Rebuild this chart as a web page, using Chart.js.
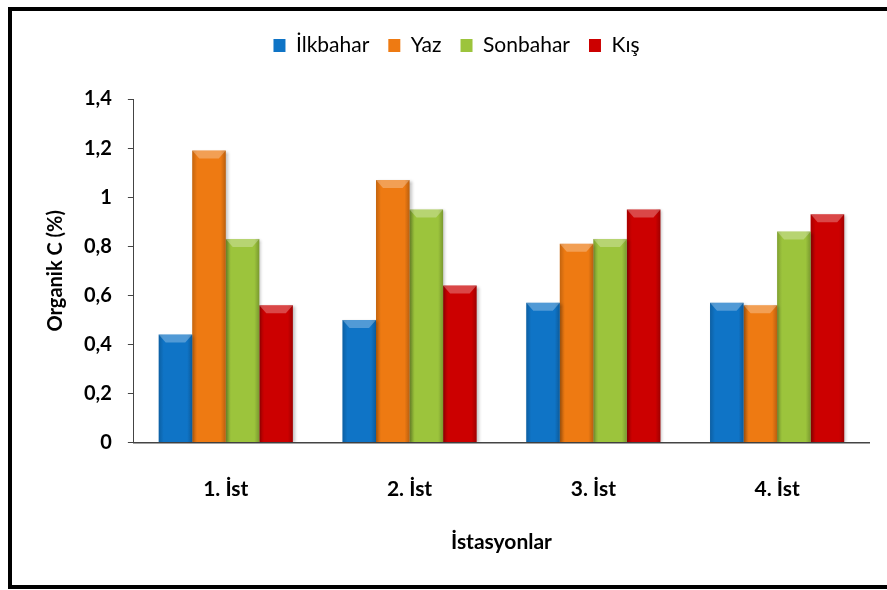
<!DOCTYPE html>
<html>
<head>
<meta charset="utf-8">
<script src="https://cdn.jsdelivr.net/npm/chart.js@4.4.1/dist/chart.umd.min.js"></script>
<style>
  body { margin: 0; background: #fff; }
  #wrap { position: relative; width: 887px; height: 590px; overflow: hidden; }
  #frame { position: absolute; left: 8px; top: 7px; width: 900px; height: 582px; border: 4px solid #000; box-sizing: border-box; }
  #chart { position: absolute; left: 0; top: 0; }
</style>
</head>
<body>
<div id="wrap">
  <div id="frame"></div>
  <canvas id="chart" width="887" height="590"></canvas>
</div>
<script>
// istasyonlar ve mevsimler
var stations = ["1. İst", "2. İst", "3. İst", "4. İst"];
var ilkbahar = [0.44, 0.50, 0.57, 0.57];
var yaz = [1.19, 1.07, 0.81, 0.56];
var sonbahar = [0.83, 0.95, 0.83, 0.86];
var kis = [0.56, 0.64, 0.95, 0.93];

var FONT = "Lato";

// fixed legend height so the plot starts where the excel one does
var legendGap = {
  id: 'legendGap',
  beforeInit: function(chart) {
    var fit = chart.legend.fit;
    chart.legend.fit = function() {
      fit.bind(chart.legend)();
      this.height = 83;
    };
  }
};

// shadow + bevel look like the excel bars
var bevel = {
  id: 'bevel',
  beforeDatasetsDraw: function(chart) {
    var ctx = chart.ctx;
    ctx.save();
    ctx.shadowColor = 'rgba(0,0,0,0.25)';
    ctx.shadowOffsetX = 2;
    ctx.shadowOffsetY = 1;
    ctx.shadowBlur = 3;
  },
  afterDatasetsDraw: function(chart) {
    var ctx = chart.ctx;
    ctx.restore();
    chart.data.datasets.forEach(function(ds, i) {
      chart.getDatasetMeta(i).data.forEach(function(bar) {
        var p = bar.getProps(['x', 'y', 'width', 'base'], true);
        var l = p.x - p.width / 2, r = p.x + p.width / 2;
        var g = ctx.createLinearGradient(l, 0, r, 0);
        g.addColorStop(0, 'rgba(0,0,0,0.18)');
        g.addColorStop(0.15, 'rgba(0,0,0,0)');
        g.addColorStop(0.85, 'rgba(0,0,0,0)');
        g.addColorStop(1, 'rgba(0,0,0,0.22)');
        ctx.save();
        ctx.fillStyle = g;
        ctx.fillRect(l, p.y, p.width, p.base - p.y);
        ctx.beginPath();
        ctx.moveTo(l, p.y);
        ctx.lineTo(r, p.y);
        ctx.lineTo(r - 7, p.y + 8);
        ctx.lineTo(l + 7, p.y + 8);
        ctx.closePath();
        ctx.fillStyle = 'rgba(255,255,255,0.28)';
        ctx.fill();
        ctx.restore();
      });
    });
  }
};

var chart = new Chart('chart', {
  type: 'bar',
  data: {
    labels: stations,
    datasets: [
      { label: "İlkbahar", data: ilkbahar, backgroundColor: "#0f74c6" },
      { label: "Yaz", data: yaz, backgroundColor: "#ee7a12" },
      { label: "Sonbahar", data: sonbahar, backgroundColor: "#9cc43c" },
      { label: "Kış", data: kis, backgroundColor: "#cc0000" }
    ]
  },
  options: {
    responsive: false,
    animation: false,
    datasets: {
      bar: { categoryPercentage: 0.73, barPercentage: 1.0, borderWidth: 0 }
    },
    layout: {
      padding: { left: 44, right: 18, top: 16, bottom: 35 }
    },
    scales: {
      x: {
        grid: { display: false },
        border: { display: true, color: '#444', width: 1.5 },
        ticks: { color: '#000', padding: 26, font: { family: FONT, size: 21, weight: 'bold' } },
        title: {
          display: true,
          text: 'İstasyonlar',
          color: '#000',
          padding: { top: 2, bottom: 0 },
          font: { family: FONT, size: 21, weight: 'bold' }
        }
      },
      y: {
        min: 0,
        max: 1.4,
        grid: { display: true, drawOnChartArea: false, drawTicks: true, tickLength: 6, color: '#444' },
        border: { display: true, color: '#444', width: 1 },
        ticks: {
          stepSize: 0.2,
          color: '#000',
          padding: 16,
          font: { family: FONT, size: 20, weight: 'bold' },
          callback: function(v) {
            return String(Number(v.toFixed(1))).replace('.', ',');
          }
        },
        title: {
          display: true,
          text: 'Organik C (%)',
          color: '#000',
          padding: { top: 0, bottom: 0 },
          font: { family: FONT, size: 20, weight: 'bold' }
        }
      }
    },
    plugins: {
      legend: {
        position: 'top',
        labels: {
          color: '#000',
          boxWidth: 12,
          boxHeight: 13,
          padding: 19,
          font: { family: FONT, size: 21 }
        }
      },
      tooltip: { enabled: false }
    }
  },
  plugins: [legendGap, bevel]
});
</script>
</body>
</html>
